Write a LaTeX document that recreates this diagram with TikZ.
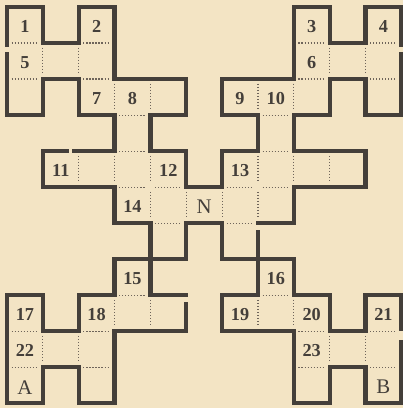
\documentclass[tikz,border=0pt]{standalone}
\usepackage{fontspec}
\setmainfont{Liberation Serif}
\definecolor{paper}{RGB}{243,228,196}
\definecolor{ink}{RGB}{68,63,58}
\definecolor{dotink}{RGB}{110,100,90}
\begin{document}
\begin{tikzpicture}[x=1cm,y=-1.005cm,
  wall/.style={line width=3.4pt, draw=ink, line cap=rect},
  dotline/.style={line width=0.9pt, draw=dotink, dash pattern=on 0.9pt off 1.5pt},
  num/.style={font=\fontsize{14.5}{15}\selectfont\bfseries, text=ink, inner sep=0pt, yshift=-1pt},
  letter/.style={font=\fontsize{16.5}{17}\selectfont, text=ink, inner sep=0pt, yshift=-1.5pt}]
\fill[paper] (-0.195,-0.194) rectangle (11.046,11.13);
\useasboundingbox (-0.195,-0.194) rectangle (11.046,11.13);
% horizontal walls: row/from/to
\foreach \r/\a/\b in {0/0/1,0/2/3,0/8/9,0/10/11,
  1/1/2,1/9/10,
  2/1/2,2/3/5,2/6/8,2/9/10,
  3/0/1,3/2/3,3/4/5,3/6/7,3/8/9,3/10/11,
  4/1/1.67,4/1.87/3,4/4/5,4/6/7,4/8/10,
  5/1/3,5/5/6,5/8/10,
  6/3/4,6/5/6,6/7/8,
  7/3/5,7/6/8,
  8/0/1,8/2/3,8/4/5,8/6/7,8/8/9,8/10/11,
  9/1/2,9/3/5,9/6/8,9/9/10,
  10/1/2,10/9/10,
  11/0/1,11/2/3,11/8/9,11/10/11}
  \draw[wall] (\a,\r) -- (\b,\r);
% vertical walls: column/from/to
\foreach \c/\a/\b in {0/0/1.05,0/1.31/3,0/8/11,
  1/0/1,1/2/3,1/4/5,1/8/9,1/10/11,
  2/0/1,2/2/3,2/8/9,2/10/11,
  3/0/2,3/3/4,3/5/6,3/7/8,3/9/11,
  4/3/4,4/6/8,
  5/2/3,5/4/5,5/6/7,5/8.25/9,
  6/2/3,6/4/5,6/6/7,6/8/9,
  7/3/4,7/6.26/7,7/7/8,
  8/0/2,8/3/4,8/5/6,8/7/8,8/9/11,
  9/0/1,9/2/3,9/8/9,9/10/11,
  10/0/1,10/2/3,10/4/5,10/8/9,10/10/11,
  11/0/1.05,11/1.31/3,11/8/8.94,11/9.31/11}
  \draw[wall] (\c,\a) -- (\c,\b);
% dotted horizontal cell borders
\foreach \r/\a in {1/0,1/2,1/8,1/10,
  2/0,2/2,2/8,2/10,
  3/3,3/7,4/3,4/7,
  5/3,5/4,5/6,5/7,
  6/4,6/6,
  8/3,8/7,
  9/0,9/2,9/8,9/10,
  10/0,10/2,10/8,10/10}
  \draw[dotline] ({\a+0.13},\r) -- ({\a+0.87},\r);
% dotted vertical cell borders
\foreach \c/\a in {1/1,1/9,
  2/1,2/4,2/9,
  3/2,3/4,3/8,
  4/2,4/4,4/5,4/8,
  5/5,6/5,
  7/2,7/4,7/5,7/8,
  8/2,8/4,8/8,
  9/1,9/4,9/9,
  10/1,10/9}
  \draw[dotline] (\c,{\a+0.13}) -- (\c,{\a+0.87});
% labels
\node[num] (l1) at (0.5,0.5) {1};
\node[num] (l2) at (2.5,0.5) {2};
\node[num] (l3) at (8.5,0.5) {3};
\node[num] (l4) at (10.5,0.5) {4};
\node[num] (l5) at (0.5,1.5) {5};
\node[num] (l6) at (8.5,1.5) {6};
\node[num] (l7) at (2.5,2.5) {7};
\node[num] (l8) at (3.5,2.5) {8};
\node[num] (l9) at (6.5,2.5) {9};
\node[num] (l10) at (7.5,2.5) {10};
\node[num] (l11) at (1.5,4.5) {11};
\node[num] (l12) at (4.5,4.5) {12};
\node[num] (l13) at (6.5,4.5) {13};
\node[num] (l14) at (3.5,5.5) {14};
\node[letter] (lN) at (5.5,5.5) {N};
\node[num] (l15) at (3.5,7.5) {15};
\node[num] (l16) at (7.5,7.5) {16};
\node[num] (l17) at (0.5,8.5) {17};
\node[num] (l18) at (2.5,8.5) {18};
\node[num] (l19) at (6.5,8.5) {19};
\node[num] (l20) at (8.5,8.5) {20};
\node[num] (l21) at (10.5,8.5) {21};
\node[num] (l22) at (0.5,9.5) {22};
\node[num] (l23) at (8.5,9.5) {23};
\node[letter] (lA) at (0.5,10.5) {A};
\node[letter] (lB) at (10.5,10.5) {B};
\end{tikzpicture}
\end{document}
